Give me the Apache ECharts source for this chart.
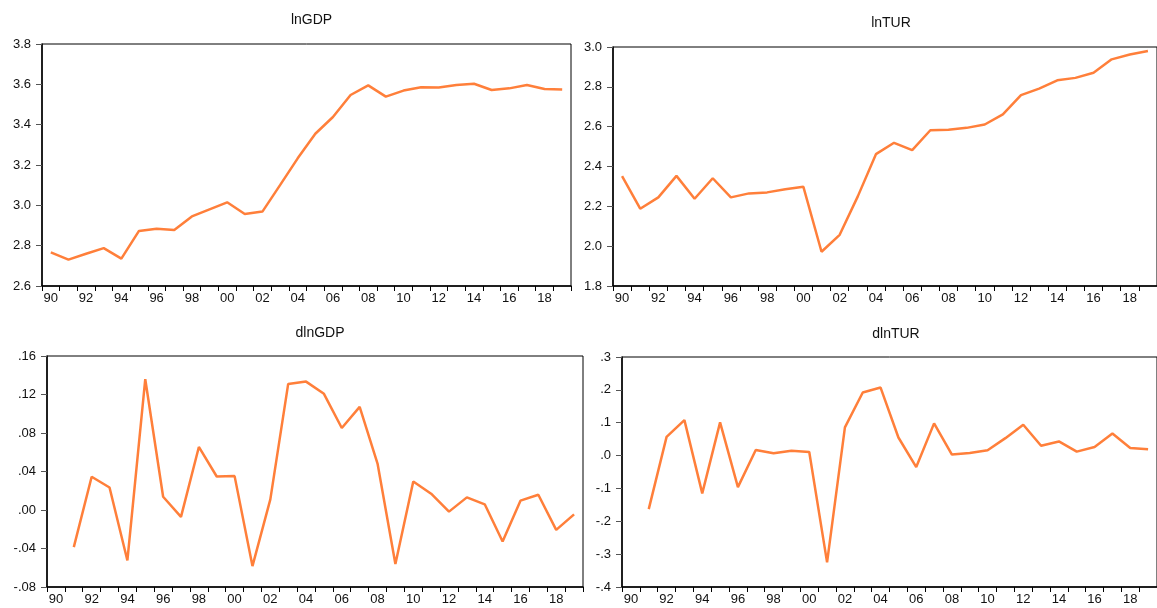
<!DOCTYPE html>
<html>
<head>
<meta charset="utf-8">
<script src="https://cdn.jsdelivr.net/npm/echarts@6/dist/echarts.min.js"></script>
<style>
html,body{margin:0;padding:0;background:#fff;}
#chart{width:1157px;height:608px;}
</style>
</head>
<body>
<div id="chart"></div>
<script>
const years = ['1990','1991','1992','1993','1994','1995','1996','1997','1998','1999',
  '2000','2001','2002','2003','2004','2005','2006','2007','2008','2009',
  '2010','2011','2012','2013','2014','2015','2016','2017','2018','2019'];

const lnGDP = [2.767, 2.731, 2.760, 2.788, 2.736, 2.873, 2.884, 2.878, 2.945, 2.980,
  3.015, 2.957, 2.969, 3.100, 3.233, 3.355, 3.438, 3.547, 3.595, 3.539,
  3.569, 3.586, 3.584, 3.597, 3.603, 3.572, 3.580, 3.597, 3.577, 3.574];

const lnTUR = [2.352, 2.188, 2.245, 2.353, 2.238, 2.341, 2.245, 2.265, 2.270, 2.286,
  2.298, 1.972, 2.057, 2.250, 2.462, 2.519, 2.482, 2.582, 2.585, 2.594,
  2.611, 2.662, 2.758, 2.791, 2.833, 2.845, 2.871, 2.938, 2.962, 2.980];

const dlnGDP = [null, -0.0386, 0.0345, 0.0234, -0.0524, 0.1359, 0.0138, -0.0072, 0.0655, 0.0348,
  0.0352, -0.0583, 0.0110, 0.1310, 0.1334, 0.1207, 0.0852, 0.1072, 0.0483, -0.0562,
  0.0297, 0.0169, -0.0017, 0.0131, 0.0059, -0.0328, 0.0097, 0.0159, -0.0207, -0.0045];

const dlnTUR = [null, -0.163, 0.057, 0.108, -0.115, 0.101, -0.096, 0.017, 0.007, 0.015,
  0.011, -0.325, 0.086, 0.192, 0.207, 0.055, -0.035, 0.098, 0.003, 0.008,
  0.016, 0.053, 0.094, 0.030, 0.043, 0.012, 0.026, 0.067, 0.023, 0.019];

const titles = ['lnGDP', 'lnTUR', 'dlnGDP', 'dlnTUR'];
const seriesData = [lnGDP, lnTUR, dlnGDP, dlnTUR];
const yMin = [2.6, 1.8, -0.08, -0.4];
const yMax = [3.8, 3.0, 0.16, 0.3];
const yStep = [0.2, 0.2, 0.04, 0.1];
const yDigits = [1, 1, 2, 1];
const yLeadingZero = [true, true, false, false];

const grids = [
  {left: 42, top: 44, width: 529, height: 242},
  {left: 613, top: 47, width: 546, height: 239},
  {left: 47, top: 356, width: 536, height: 231},
  {left: 622, top: 357, width: 538, height: 230}
];
const titleTops = [8, 11, 321, 322];

const FONT = 'Liberation Sans, Arial, sans-serif';
const LINE_COLOR = '#FF7F3A';

const option = {
  animation: false,
  backgroundColor: '#fff',
  title: titles.map((t, i) => ({
    text: t,
    left: grids[i].left + grids[i].width / 2,
    top: titleTops[i],
    textAlign: 'center',
    textStyle: {fontSize: 14, fontWeight: 'normal', color: '#111', fontFamily: FONT}
  })),
  grid: grids.map(g => Object.assign({show: true, borderColor: '#000', borderWidth: 1, backgroundColor: 'transparent'}, g)),
  xAxis: grids.map((g, i) => ({
    type: 'category',
    gridIndex: i,
    data: years,
    boundaryGap: true,
    axisLine: {onZero: false, lineStyle: {color: '#000', width: 1.5}},
    axisTick: {show: true, interval: 0, length: 5, inside: false, lineStyle: {color: '#000', width: 1}},
    axisLabel: {
      interval: 1,
      margin: 6,
      color: '#111',
      fontSize: 13,
      fontFamily: FONT,
      formatter: v => v.slice(2)
    },
    splitLine: {show: false}
  })),
  yAxis: grids.map((g, i) => ({
    type: 'value',
    gridIndex: i,
    min: yMin[i],
    max: yMax[i],
    interval: yStep[i],
    axisLine: {show: true, onZero: false, lineStyle: {color: '#000', width: 1.5}},
    axisTick: {show: true, length: 6, lineStyle: {color: '#555', width: 1}},
    axisLabel: {
      margin: 11,
      color: '#111',
      fontSize: 13,
      fontFamily: FONT,
      formatter: v => {
        let s = v.toFixed(yDigits[i]);
        if (/^-0\.0+$/.test(s)) s = s.slice(1);
        if (!yLeadingZero[i]) s = s.replace(/^(-?)0\./, '$1.');
        return s;
      }
    },
    splitLine: {show: false}
  })),
  series: seriesData.map((d, i) => ({
    type: 'line',
    xAxisIndex: i,
    yAxisIndex: i,
    data: d,
    symbol: 'none',
    connectNulls: false,
    lineStyle: {color: LINE_COLOR, width: 2.5},
    itemStyle: {color: LINE_COLOR}
  }))
};

const chart = echarts.init(document.getElementById('chart'), null, {renderer: 'canvas'});
chart.setOption(option);
</script>
</body>
</html>
